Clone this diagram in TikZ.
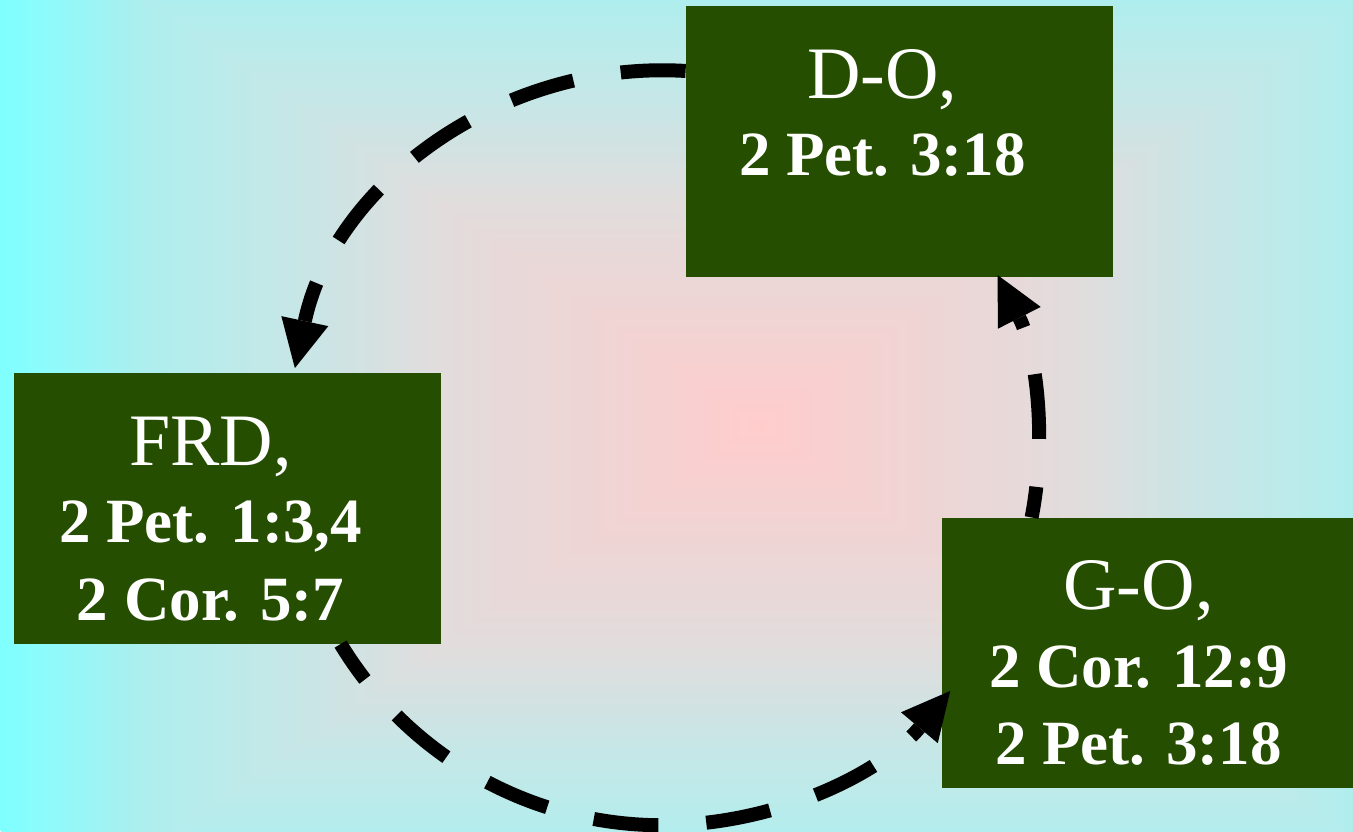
\documentclass[tikz,border=0pt]{standalone}
\usepackage{fontspec}
\setmainfont{Liberation Serif}
\usepackage{tikz}
\usetikzlibrary{arrows.meta}

% background stops, from the edge inwards
\definecolor{bgcyan}{RGB}{128,255,255}
\definecolor{bgsky}{RGB}{174,238,238}
\definecolor{bgice}{RGB}{186,235,235}
\definecolor{bgmist}{RGB}{202,229,229}
\definecolor{bggrey}{RGB}{226,220,220}
\definecolor{bgrose}{RGB}{238,213,213}
\definecolor{bgpink}{RGB}{255,204,204}
\definecolor{cardgreen}{RGB}{37,78,0}

\newcommand{\titlefont}{\fontsize{37}{38.75}\selectfont\mdseries}
\newcommand{\cardtext}[3]{%
  \begin{tabular}{@{}c@{}}
    {\titlefont\rule{0pt}{46pt}#1}\\
    #2\\
    #3\mbox{}
  \end{tabular}\kern17pt}

\tikzset{
  card/.style={rectangle, fill=cardgreen, text=white, inner sep=0pt,
    minimum width=213.5pt, minimum height=134pt,
    font=\fontsize{31.5}{38.75}\selectfont\bfseries},
  flow/.style={line width=7pt, dash pattern=on 32.5pt off 24pt,
    -{Triangle[length=24pt, width=24pt, line width=0pt]}}
}

\begin{document}
\begin{tikzpicture}[x=0.5pt, y=-0.5pt]
  \useasboundingbox (0,0) rectangle (1353,831);

  % background, nested rectangles from cyan edge to pink middle
  \fill [bgcyan] (0,0) rectangle (1353,831);
  \foreach \ta/\tb/\ca/\cb in {
    85/69/bgcyan/bgsky, 69/62/bgsky/bgice, 62/50/bgice/bgmist,
    50/36/bgmist/bggrey, 36/20/bggrey/bgrose, 20/1/bgrose/bgpink%
  } {
    \pgfmathtruncatemacro{\tz}{\ta-1}
    \foreach \t in {\ta,\tz,...,\tb} {
      \pgfmathsetmacro{\w}{8.9*\t}
      \pgfmathsetmacro{\h}{6.2*\t}
      \pgfmathsetmacro{\p}{(\t-\tb)*100/(\ta-\tb)}
      \fill [\ca!\p!\cb] ({757-\w},{425-\h}) rectangle ({757+\w},{425+\h});
    }
  }

  % the three stages
  \node [card] (do)  at (899.5,141.5) {\cardtext{D-O,}{2 Pet. 3:18}{}};
  \node [card] (frd) at (227.5,508.5) {\cardtext{FRD,}{2 Pet. 1:3,4}{2 Cor. 5:7}};
  \node [card] (go)  at (1155.5,653)  {\cardtext{G-O,}{2 Cor. 12:9}{2 Pet. 3:18}};

  % dashed cycle between them
  \draw [flow] (do.north west) ++(0,65)
    arc [start angle=-86.5, end angle=-168, radius=376];
  \draw [flow, dash phase=11pt] (frd.south west) ++(327,0)
    arc [start angle=-211.2, end angle=-320, radius=376];
  \draw [flow, dash phase=17pt] (go.north west) ++(90,0)
    arc [start angle=11, end angle=-27, radius=376];
\end{tikzpicture}
\end{document}
